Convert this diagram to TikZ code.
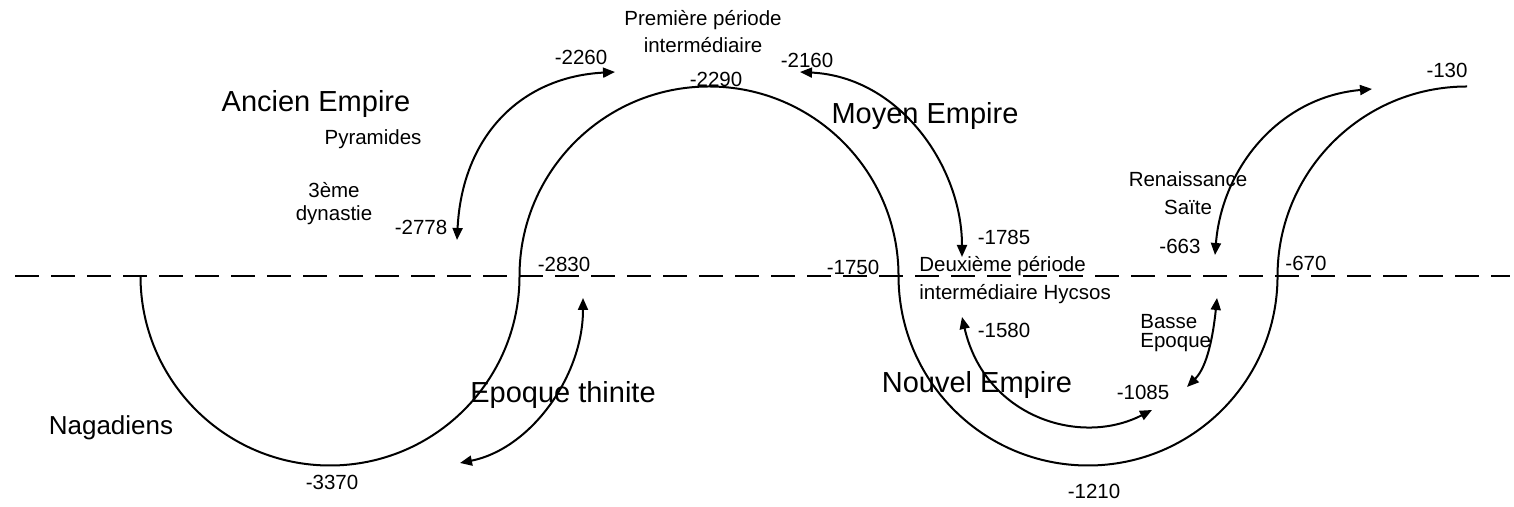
\documentclass[tikz,border=0pt]{standalone}
\usepackage{fontspec}
\setmainfont{Liberation Sans}
\usepackage{tikz}
\usetikzlibrary{arrows.meta}
\tikzstyle{axis} = [
    line width=1bp,
    dash pattern=on 12bp off 6bp
]
\tikzstyle{wave} = [
    line width=1bp
]
\tikzstyle{period} = [
    line width=1bp,
    {Triangle[length=6bp,width=5bp]}-{Triangle[length=6bp,width=5bp]}
]
\tikzstyle{big} = [inner sep=0pt, anchor=base, font=\fontsize{14.5bp}{17bp}\selectfont]
\tikzstyle{mid} = [inner sep=0pt, anchor=base, font=\fontsize{13bp}{15bp}\selectfont]
\tikzstyle{small} = [inner sep=0pt, anchor=base, font=\fontsize{10.25bp}{12bp}\selectfont]

\begin{document}
\begin{tikzpicture}[x=0.5bp,y=0.5bp]
\useasboundingbox (0,0) rectangle (1514,507);

\draw[axis] (15,231) -- (1510,231);

\coordinate (w0) at (140.5,231);
\draw[wave] (w0) arc[start angle=180,end angle=360,radius=94.75bp]
  arc[start angle=180,end angle=0,radius=94.75bp]
  arc[start angle=180,end angle=360,radius=94.75bp]
  arc[start angle=180,end angle=90,radius=94.75bp] coordinate (w1);

\coordinate (a1) at (460,44);
\coordinate (a2) at (583,209);
\draw[period] (a1) .. controls (530,58) and (583,130) .. (a2);

\coordinate (b1) at (457,267);
\coordinate (b2) at (615,435);
\draw[period] (b1) .. controls (462,370) and (520,430) .. (b2);

\coordinate (c1) at (800,435);
\coordinate (c2) at (962,250);
\draw[period] (c1) .. controls (900,430) and (962,340) .. (c2);

\coordinate (d1) at (962,190);
\coordinate (d2) at (1152,97);
\draw[period] (d1) .. controls (985,90) and (1080,60) .. (d2);

\coordinate (e1) at (1187,120);
\coordinate (e2) at (1217,209);
\draw[period] (e1) .. controls (1207,140) and (1213,170) .. (e2);

\coordinate (f1) at (1215,252);
\coordinate (f2) at (1372,418);
\draw[period] (f1) .. controls (1222,340) and (1280,410) .. (f2);

\node[big] (ancien) at (316,395) {Ancien Empire};
\node[small] (pyramides) at (373,362) {Pyramides};
\node[small, align=center, font=\fontsize{10.25bp}{11.5bp}\selectfont] (dynastie) at (334,286) {3ème\\dynastie};
\node[small] (y2778) at (421,272) {-2778};

\node[small, align=center, font=\fontsize{10.25bp}{13.5bp}\selectfont] (premiere) at (703,454) {Première période\\intermédiaire};
\node[small] (y2260) at (581,442) {-2260};
\node[small] (y2290) at (716,420) {-2290};
\node[small] (y2160) at (807,439) {-2160};

\node[big] (moyen) at (925,383) {Moyen Empire};
\node[small] (y1785) at (1004,262) {-1785};
\node[small] (y2830) at (564,235) {-2830};
\node[small] (y1750) at (853,232) {-1750};
\node[small, anchor=base west, align=left, font=\fontsize{10.25bp}{14bp}\selectfont] (deuxieme) at (919,207) {Deuxième période\\intermédiaire Hycsos};
\node[small] (y1580) at (1004,169) {-1580};

\node[big] (nouvel) at (977,114) {Nouvel Empire};
\node[big] (thinite) at (563,104) {Epoque thinite};
\node[mid] (nagadiens) at (111,72) {Nagadiens};
\node[small] (y3370) at (332,17) {-3370};
\node[small] (y1210) at (1094,8) {-1210};
\node[small] (y1085) at (1143,107) {-1085};

\node[small, anchor=base west, align=left, font=\fontsize{10.25bp}{9.75bp}\selectfont] (basse) at (1140,159) {Basse\\Epoque};
\node[small] (y670) at (1306,236) {-670};
\node[small] (y663) at (1180,253) {-663};
\node[small, align=center, font=\fontsize{10.25bp}{14bp}\selectfont] (renaissance) at (1188,292) {Renaissance\\Saïte};
\node[small] (y130) at (1447,429) {-130};

\end{tikzpicture}
\end{document}
